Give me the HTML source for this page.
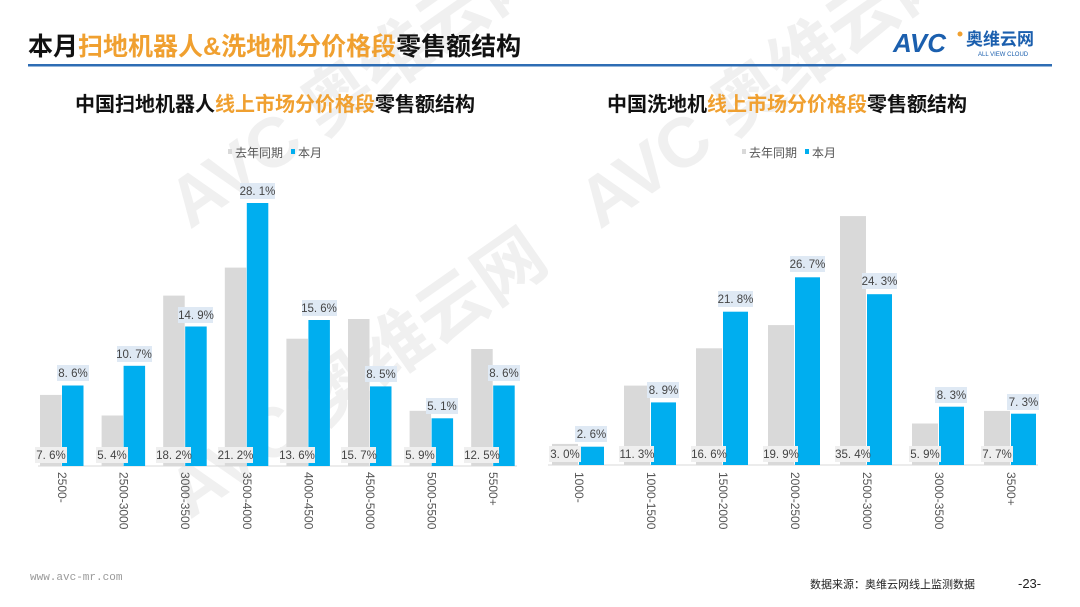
<!DOCTYPE html>
<html><head><meta charset="utf-8"><style>
body{margin:0;background:#fff;}
svg{display:block;font-family:"Liberation Sans","Noto Sans CJK SC",sans-serif;}
.gl{fill:#efefef}.bl{fill:#dfe9f4}
.v{font-size:11.5px;fill:#444;text-anchor:middle;font-family:"Liberation Sans",sans-serif}
.ax{font-size:12px;fill:#555;font-family:"Liberation Sans",sans-serif}
</style></head><body>
<svg width="1080" height="607" viewBox="0 0 1080 607" xmlns="http://www.w3.org/2000/svg">
<rect width="1080" height="607" fill="#fff"/>
<g fill="#f0f0f0" font-weight="bold">
<text x="190" y="230" font-size="70" transform="rotate(-35 190 230)">AVC 奥维云网</text>
<text x="600" y="230" font-size="70" transform="rotate(-35 600 230)">AVC 奥维云网</text>
<text x="190" y="520" font-size="70" transform="rotate(-35 190 520)">AVC 奥维云网</text>
</g>
<text x="28" y="55" font-size="25" font-weight="bold" fill="#111">本月<tspan fill="#f0a030">扫地机器人&amp;洗地机分价格段</tspan>零售额结构</text>
<text x="893" y="52" font-size="26" font-weight="bold" fill="#1b5fae" font-style="italic">AVC</text>
<circle cx="960" cy="34" r="2.5" fill="#f0a030"/>
<text x="966" y="45" font-size="17" font-weight="bold" fill="#1b5fae">奥维云网</text>
<text x="978" y="56" font-size="6" fill="#1b5fae">ALL VIEW CLOUD</text>
<rect x="28" y="64" width="1024" height="2.5" fill="#2e6db4"/>
<text x="75" y="111" font-size="20" font-weight="bold" fill="#111">中国扫地机器人<tspan fill="#f0a030">线上市场分价格段</tspan>零售额结构</text>
<text x="607" y="111" font-size="20" font-weight="bold" fill="#111">中国洗地机<tspan fill="#f0a030">线上市场分价格段</tspan>零售额结构</text>
<g font-size="12" fill="#555">
<rect x="228" y="149" width="4" height="5" fill="#d9d9d9"/><text x="235" y="157">去年同期</text>
<rect x="291" y="149" width="4" height="5" fill="#00aeef"/><text x="298" y="157">本月</text>
<rect x="742" y="149" width="4" height="5" fill="#d9d9d9"/><text x="749" y="157">去年同期</text>
<rect x="805" y="149" width="4" height="5" fill="#00aeef"/><text x="812" y="157">本月</text>
</g>
<line x1="38" y1="466" x2="517" y2="466" stroke="#d9d9d9"/>
<g fill="#d9d9d9">
<rect x="40" y="394.9" width="21.5" height="71.1"/>
<rect x="101.6" y="415.5" width="21.5" height="50.5"/>
<rect x="163.2" y="295.6" width="21.5" height="170.4"/>
<rect x="224.8" y="267.6" width="21.5" height="198.4"/>
<rect x="286.4" y="338.7" width="21.5" height="127.3"/>
<rect x="348" y="319" width="21.5" height="147"/>
<rect x="409.6" y="410.8" width="21.5" height="55.2"/>
<rect x="471.2" y="349" width="21.5" height="117"/>
</g>
<g fill="#00aeef">
<rect x="62" y="385.5" width="21.5" height="80.5"/>
<rect x="123.6" y="365.8" width="21.5" height="100.2"/>
<rect x="185.2" y="326.5" width="21.5" height="139.5"/>
<rect x="246.8" y="203" width="21.5" height="263"/>
<rect x="308.4" y="320" width="21.5" height="146"/>
<rect x="370" y="386.4" width="21.5" height="79.6"/>
<rect x="431.6" y="418.3" width="21.5" height="47.7"/>
<rect x="493.2" y="385.5" width="21.5" height="80.5"/>
</g>
<g>
<rect class="gl" x="35" y="447" width="32" height="16"/><text class="v" x="51" y="459">7. 6%</text>
<rect class="gl" x="96" y="447" width="32" height="16"/><text class="v" x="112" y="459">5. 4%</text>
<rect class="gl" x="156" y="447" width="35" height="16"/><text class="v" x="174" y="459">18. 2%</text>
<rect class="gl" x="218" y="447" width="35" height="16"/><text class="v" x="235.5" y="459">21. 2%</text>
<rect class="gl" x="280" y="447" width="35" height="16"/><text class="v" x="297" y="459">13. 6%</text>
<rect class="gl" x="341" y="447" width="35" height="16"/><text class="v" x="359" y="459">15. 7%</text>
<rect class="gl" x="404" y="447" width="32" height="16"/><text class="v" x="420" y="459">5. 9%</text>
<rect class="gl" x="464" y="447" width="35" height="16"/><text class="v" x="482" y="459">12. 5%</text>
<rect class="bl" x="57" y="365" width="32" height="16"/><text class="v" x="73" y="377">8. 6%</text>
<rect class="bl" x="117" y="346" width="35" height="16"/><text class="v" x="134" y="358">10. 7%</text>
<rect class="bl" x="178" y="307" width="35" height="16"/><text class="v" x="196" y="319">14. 9%</text>
<rect class="bl" x="240" y="183" width="35" height="16"/><text class="v" x="257.5" y="195">28. 1%</text>
<rect class="bl" x="302" y="300" width="35" height="16"/><text class="v" x="319" y="312">15. 6%</text>
<rect class="bl" x="365" y="366" width="32" height="16"/><text class="v" x="381" y="378">8. 5%</text>
<rect class="bl" x="426" y="398" width="32" height="16"/><text class="v" x="442" y="410">5. 1%</text>
<rect class="bl" x="488" y="365" width="32" height="16"/><text class="v" x="504" y="377">8. 6%</text>
</g>
<g class="ax">
<text transform="translate(58,472) rotate(90)">2500-</text>
<text transform="translate(119.6,472) rotate(90)">2500-3000</text>
<text transform="translate(181.2,472) rotate(90)">3000-3500</text>
<text transform="translate(242.8,472) rotate(90)">3500-4000</text>
<text transform="translate(304.4,472) rotate(90)">4000-4500</text>
<text transform="translate(366,472) rotate(90)">4500-5000</text>
<text transform="translate(427.6,472) rotate(90)">5000-5500</text>
<text transform="translate(489.2,472) rotate(90)">5500+</text>
</g>
<line x1="548" y1="465" x2="1038" y2="465" stroke="#d9d9d9"/>
<g fill="#d9d9d9">
<rect x="552" y="443.9" width="26" height="21.1"/>
<rect x="624" y="385.6" width="26" height="79.4"/>
<rect x="696" y="348.3" width="26" height="116.7"/>
<rect x="768" y="325.1" width="26" height="139.9"/>
<rect x="840" y="216.1" width="26" height="248.9"/>
<rect x="912" y="423.5" width="26" height="41.5"/>
<rect x="984" y="410.9" width="26" height="54.1"/>
</g>
<g fill="#00aeef">
<rect x="579" y="446.7" width="25" height="18.3"/>
<rect x="651" y="402.4" width="25" height="62.6"/>
<rect x="723" y="311.7" width="25" height="153.3"/>
<rect x="795" y="277.3" width="25" height="187.7"/>
<rect x="867" y="294.2" width="25" height="170.8"/>
<rect x="939" y="406.7" width="25" height="58.3"/>
<rect x="1011" y="413.7" width="25" height="51.3"/>
</g>
<g>
<rect class="gl" x="549" y="446" width="32" height="16"/><text class="v" x="565" y="458">3. 0%</text>
<rect class="gl" x="619" y="446" width="35" height="16"/><text class="v" x="637" y="458">11. 3%</text>
<rect class="gl" x="691" y="446" width="35" height="16"/><text class="v" x="709" y="458">16. 6%</text>
<rect class="gl" x="763" y="446" width="35" height="16"/><text class="v" x="781" y="458">19. 9%</text>
<rect class="gl" x="835" y="446" width="35" height="16"/><text class="v" x="853" y="458">35. 4%</text>
<rect class="gl" x="909" y="446" width="32" height="16"/><text class="v" x="925" y="458">5. 9%</text>
<rect class="gl" x="981" y="446" width="32" height="16"/><text class="v" x="997" y="458">7. 7%</text>
<rect class="bl" x="575" y="426" width="32" height="16"/><text class="v" x="591.5" y="438">2. 6%</text>
<rect class="bl" x="647" y="382" width="32" height="16"/><text class="v" x="663.5" y="394">8. 9%</text>
<rect class="bl" x="718" y="291" width="35" height="16"/><text class="v" x="735.5" y="303">21. 8%</text>
<rect class="bl" x="790" y="256" width="35" height="16"/><text class="v" x="807.5" y="268">26. 7%</text>
<rect class="bl" x="862" y="273" width="35" height="16"/><text class="v" x="879.5" y="285">24. 3%</text>
<rect class="bl" x="935" y="387" width="32" height="16"/><text class="v" x="951.5" y="399">8. 3%</text>
<rect class="bl" x="1007" y="394" width="32" height="16"/><text class="v" x="1023.5" y="406">7. 3%</text>
</g>
<g class="ax">
<text transform="translate(575,472) rotate(90)">1000-</text>
<text transform="translate(647,472) rotate(90)">1000-1500</text>
<text transform="translate(719,472) rotate(90)">1500-2000</text>
<text transform="translate(791,472) rotate(90)">2000-2500</text>
<text transform="translate(863,472) rotate(90)">2500-3000</text>
<text transform="translate(935,472) rotate(90)">3000-3500</text>
<text transform="translate(1007,472) rotate(90)">3500+</text>
</g>
<text x="30" y="580" font-size="11" fill="#999" font-family="Liberation Mono,monospace">www.avc-mr.com</text>
<text x="810" y="588" font-size="11" fill="#222">数据来源：奥维云网线上监测数据</text>
<text x="1018" y="588" font-size="13" fill="#222">-23-</text>
</svg>
</body></html>
